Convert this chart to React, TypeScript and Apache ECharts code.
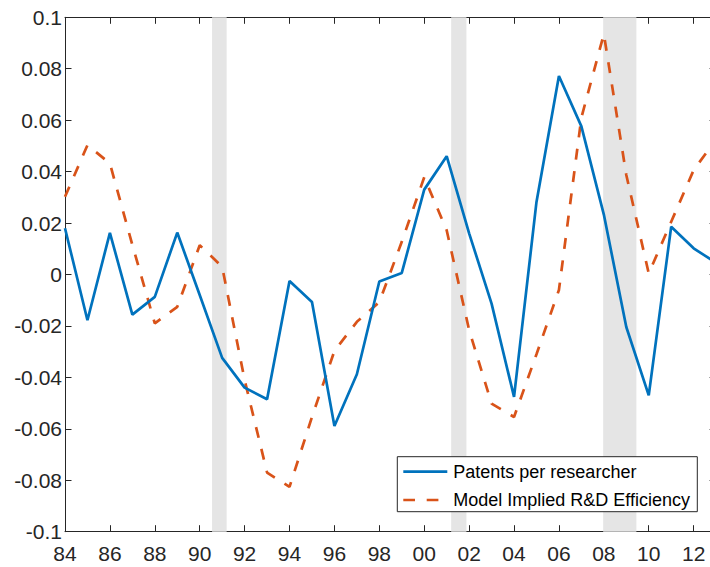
import React, { useEffect, useRef } from "react";
import * as echarts from "echarts";

const years = [1984, 1985, 1986, 1987, 1988, 1989, 1990, 1991, 1992, 1993, 1994, 1995, 1996, 1997, 1998, 1999, 2000, 2001, 2002, 2003, 2004, 2005, 2006, 2007, 2008, 2009, 2010, 2011, 2012, 2013];
const patentsPerResearcher = [0.018, -0.0178, 0.0162, -0.0156, -0.0087, 0.0163, -0.008, -0.0324, -0.044, -0.0485, -0.0025, -0.0107, -0.0589, -0.0388, -0.0027, 0.0006, 0.033, 0.046, 0.016, -0.0113, -0.0476, 0.0282, 0.0772, 0.0576, 0.0233, -0.0204, -0.047, 0.0186, 0.0102, 0.0045];
const modelImplied = [0.0302, 0.0503, 0.0432, 0.0115, -0.019, -0.0126, 0.0114, 0.003, -0.041, -0.077, -0.0826, -0.0554, -0.0297, -0.0184, -0.0107, 0.0127, 0.0378, 0.0172, -0.0216, -0.0502, -0.0554, -0.031, -0.006, 0.061, 0.0935, 0.0387, 0.0004, 0.0205, 0.0406, 0.0525];
const recessionStarts = [1990.55, 2001.2, 2007.97];
const recessionEnds = [1991.2, 2001.88, 2009.45];
const seriesNames = ["Patents per researcher", "Model Implied R&D Efficiency"];
const xTickLabels = ["84", "86", "88", "90", "92", "94", "96", "98", "00", "02", "04", "06", "08", "10", "12"];

const FONT = "'Liberation Sans', Arial, Helvetica, sans-serif";
const AXIS_COLOR = "#262626";
const BLUE = "#0072BD";
const ORANGE = "#D95319";

export default function App() {
  const ref = useRef<HTMLDivElement>(null);
  useEffect(() => {
    if (!ref.current) return;
    const chart = echarts.init(ref.current, undefined, { renderer: "svg" });
    const blueData = years.map((y, i) => [y, patentsPerResearcher[i]]);
    const redData = years.map((y, i) => [y, modelImplied[i]]);
    const areas = recessionStarts.map((s, i) => [{ xAxis: s }, { xAxis: recessionEnds[i] }]);
    const xFmt = (v: number) => {
      const idx = (v - 1984) / 2;
      if (Number.isInteger(idx) && idx >= 0 && idx < xTickLabels.length) return xTickLabels[idx];
      return "";
    };
    const baseX = {
      type: "value" as const,
      min: 1984,
      max: 2013,
      interval: 2,
      splitLine: { show: false },
      axisLine: { show: true, onZero: false, lineStyle: { color: AXIS_COLOR, width: 1 } },
      axisTick: { show: true, inside: true, length: 6.5, lineStyle: { color: AXIS_COLOR, width: 1 } },
    };
    const baseY = {
      type: "value" as const,
      min: -0.1,
      max: 0.1,
      interval: 0.02,
      splitLine: { show: false },
      axisLine: { show: true, onZero: false, lineStyle: { color: AXIS_COLOR, width: 1 } },
      axisTick: { show: true, inside: true, length: 6.5, lineStyle: { color: AXIS_COLOR, width: 1 } },
    };
    const lx = 397.3, ly = 456.7, lw = 300, lh = 55;
    const Z = 100;
    chart.setOption({
      animation: false,
      backgroundColor: "#ffffff",
      textStyle: { fontFamily: FONT },
      grid: { left: 65, top: 17.3, right: 13.9, bottom: 35.3, containLabel: false },
      xAxis: [
        {
          ...baseX,
          position: "bottom",
          axisLabel: {
            show: true,
            formatter: xFmt,
            fontSize: 21,
            color: AXIS_COLOR,
            fontFamily: FONT,
            margin: 11,
            showMaxLabel: false,
          },
        },
        { ...baseX, position: "top", axisLabel: { show: false } },
      ],
      yAxis: [
        {
          ...baseY,
          position: "left",
          axisLabel: {
            show: true,
            fontSize: 21,
            color: AXIS_COLOR,
            fontFamily: FONT,
            margin: 3,
            formatter: (v: number) => {
              const r = Math.round(v * 100) / 100;
              return r === 0 ? "0" : String(r);
            },
          },
        },
        { ...baseY, position: "right", axisLabel: { show: false } },
      ],
      graphic: [
        {
          type: "rect",
          z: Z,
          shape: { x: lx, y: ly, width: lw, height: lh },
          style: { fill: "#ffffff", stroke: AXIS_COLOR, lineWidth: 1 },
        },
        {
          type: "line",
          z: Z + 1,
          shape: { x1: 403.3, y1: 471.7, x2: 447.3, y2: 471.7 },
          style: { stroke: BLUE, lineWidth: 2.7 },
        },
        {
          type: "line",
          z: Z + 1,
          shape: { x1: 403.3, y1: 500, x2: 440, y2: 500 },
          style: { stroke: ORANGE, lineWidth: 2.7, lineDash: [11.7, 11.7] },
        },
        {
          type: "text",
          z: Z + 1,
          x: 453.3,
          y: 471.7,
          style: { text: seriesNames[0], fontSize: 18, fontFamily: FONT, fill: "#000000", verticalAlign: "middle", align: "left" },
        },
        {
          type: "text",
          z: Z + 1,
          x: 453.3,
          y: 500,
          style: { text: seriesNames[1], fontSize: 18, fontFamily: FONT, fill: "#000000", verticalAlign: "middle", align: "left" },
        },
      ],
      series: [
        {
          name: "recessions",
          type: "line",
          data: [],
          z: 1,
          silent: true,
          markArea: {
            silent: true,
            itemStyle: { color: "#e5e5e5" },
            data: areas,
          },
        },
        {
          name: seriesNames[0],
          type: "line",
          data: blueData,
          symbol: "none",
          z: 3,
          lineStyle: { color: BLUE, width: 2.7 },
          itemStyle: { color: BLUE },
        },
        {
          name: seriesNames[1],
          type: "line",
          data: redData,
          symbol: "none",
          z: 2,
          lineStyle: { color: ORANGE, width: 2.7, type: [11, 11.5] },
          itemStyle: { color: ORANGE },
        },
      ],
    });
    return () => chart.dispose();
  }, []);
  return (
    <div style={{ position: "absolute", left: 0, top: 0, width: 710, height: 567, overflow: "hidden", background: "#fff" }}>
      <div ref={ref} style={{ width: 730, height: 567 }} />
    </div>
  );
}
